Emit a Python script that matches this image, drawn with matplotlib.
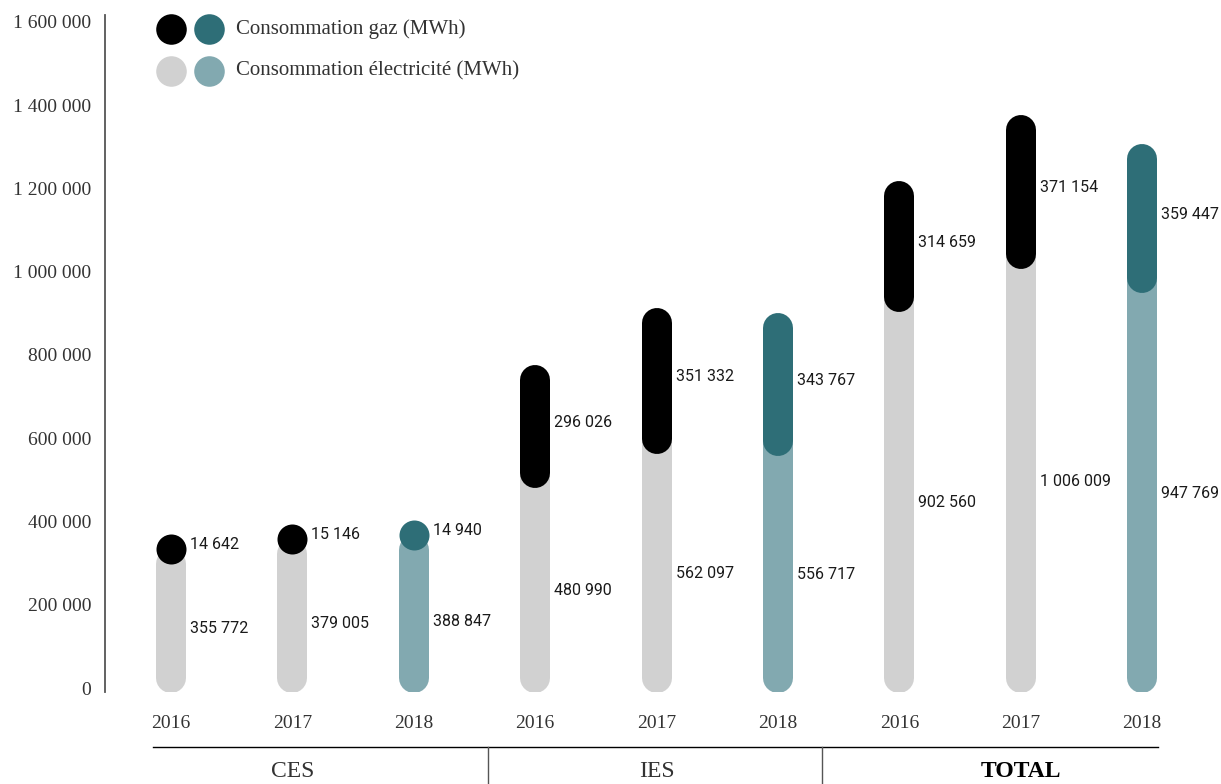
import matplotlib.pyplot as plt

# Consumption per site and year (MWh)
years = ['2016', '2017', '2018']
groups = ['CES', 'IES', 'TOTAL']
ces_elec = [355772, 379005, 388847]
ces_gas = [14642, 15146, 14940]
ies_elec = [480990, 562097, 556717]
ies_gas = [296026, 351332, 343767]
total_elec = [902560, 1006009, 947769]
total_gas = [314659, 371154, 359447]
y_ticks = [0, 200000, 400000, 600000, 800000, 1000000, 1200000, 1400000, 1600000]

elec = ces_elec + ies_elec + total_elec
gas = ces_gas + ies_gas + total_gas

GREY, BLACK = '#d1d1d1', '#000000'
TEAL_LIGHT, TEAL_DARK = '#82a9b0', '#2e6e77'

W, H = 1221, 784
fig = plt.figure(figsize=(W / 100, H / 100), dpi=100)
ax = fig.add_axes([105 / W, (H - 692) / H, (1200 - 105) / W, (692 - 15) / H])
ax.set_xlim(-0.544, 8.476)
ax.set_ylim(-9600, 1616800)

for s in ['top', 'right', 'bottom']:
    ax.spines[s].set_visible(False)
ax.spines['left'].set_color('#555555')
ax.spines['left'].set_linewidth(1.3)
ax.set_xticks([])
ax.set_yticks(y_ticks)
ax.set_yticklabels([f'{v:,}'.replace(',', ' ') for v in y_ticks],
                   fontfamily='Liberation Serif', fontsize=14, color='#333333')
ax.tick_params(axis='y', length=0, pad=10)

# data units per pixel, used to keep the capsules round
x_per_px = (ax.get_xlim()[1] - ax.get_xlim()[0]) / (1200 - 105)
y_per_px = (ax.get_ylim()[1] - ax.get_ylim()[0]) / (692 - 15)
r_y = 15 * y_per_px  # cap radius in y units
bar_lw = 30 * 0.72   # 30 px in points


def capsule(x, y0, y1, color):
    # thick line with round caps; endpoints pulled in by the cap radius
    a, b = y0 + r_y, y1 - r_y
    if b - a < 0.05 * r_y:
        # too short for a line: just a dot
        ax.plot([x], [(y0 + y1) / 2], 'o', ms=bar_lw, mfc=color, mec='none', zorder=2)
    else:
        ax.plot([x, x], [a, b], color=color, lw=bar_lw, solid_capstyle='round', zorder=2)


for i, (e, g) in enumerate(zip(elec, gas)):
    light = TEAL_LIGHT if i % 3 == 2 else GREY
    dark = TEAL_DARK if i % 3 == 2 else BLACK
    top = e + g
    gas_bottom = min(e, top - 2 * r_y)
    base = -5 * y_per_px
    capsule(i, base, top - r_y, light)
    capsule(i, gas_bottom, top, dark)
    lx = i + 19 * x_per_px
    ax.text(lx, (gas_bottom + top) / 2 + 4 * y_per_px, f'{g:,}'.replace(',', ' '),
            fontfamily='Roboto', fontsize=11.5, color='#1a1a1a', va='center', ha='left')
    ax.text(lx, (gas_bottom + base) / 2, f'{e:,}'.replace(',', ' '),
            fontfamily='Roboto', fontsize=11.5, color='#1a1a1a', va='center', ha='left')

# year labels and group separators below the axis
for i in range(9):
    ax.text(i, -35 * y_per_px, years[i % 3], fontfamily='Liberation Serif', fontsize=14,
            color='#333333', ha='center', va='center', clip_on=False)

y_line = -(747 - 688) * y_per_px
ax.plot([(153 - 171) / 121.4, (1158 - 171) / 121.4], [y_line, y_line],
        color='black', lw=1, clip_on=False)
for px in [488, 822]:
    xs = (px - 171) / 121.4
    ax.plot([xs, xs], [y_line, y_line - 40 * y_per_px], color='#555555', lw=1, clip_on=False)

for j, name in enumerate(groups):
    ax.text(3 * j + 1, y_line - 14 * y_per_px, name, fontfamily='Liberation Serif',
            fontsize=17, color='black' if name == 'TOTAL' else '#333333',
            fontweight='bold' if name == 'TOTAL' else 'normal', ha='center', va='top',
            clip_on=False)

# legend built from filled circles
legend_items = [('Consommation gaz (MWh)', BLACK, TEAL_DARK, 29),
                ('Consommation électricité (MWh)', GREY, TEAL_LIGHT, 71)]
for label, c1, c2, py in legend_items:
    fy = (H - py) / H
    fig.lines.append(plt.Line2D([171 / W], [fy], marker='o', ms=22, mfc=c1, mec='none',
                                transform=fig.transFigure))
    fig.lines.append(plt.Line2D([209 / W], [fy], marker='o', ms=22, mfc=c2, mec='none',
                                transform=fig.transFigure))
    fig.text(236 / W, fy, label, fontfamily='Liberation Serif', fontsize=15,
             color='#333333', va='center', ha='left')

fig.savefig('out.png', dpi=100)
